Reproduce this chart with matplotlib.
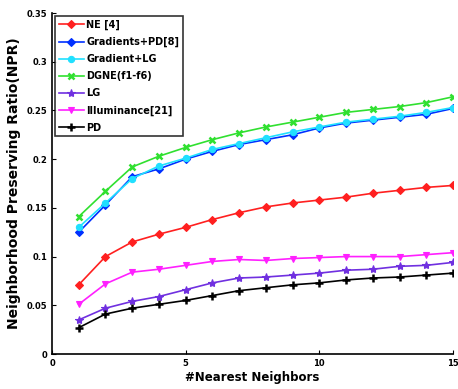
import numpy as np
import matplotlib.pyplot as plt

k = list(range(1, 16))
ne = [0.071, 0.100, 0.115, 0.123, 0.130, 0.138, 0.145, 0.151, 0.155, 0.158, 0.161, 0.165, 0.168, 0.171, 0.173]
grad_pd = [0.125, 0.153, 0.182, 0.190, 0.200, 0.208, 0.215, 0.220, 0.225, 0.232, 0.237, 0.240, 0.243, 0.246, 0.252]
grad_lg = [0.130, 0.155, 0.180, 0.193, 0.201, 0.210, 0.216, 0.222, 0.228, 0.233, 0.238, 0.241, 0.244, 0.248, 0.253]
dgne = [0.141, 0.167, 0.192, 0.203, 0.212, 0.220, 0.227, 0.233, 0.238, 0.243, 0.248, 0.251, 0.254, 0.258, 0.264]
lg = [0.035, 0.047, 0.054, 0.059, 0.066, 0.073, 0.078, 0.079, 0.081, 0.083, 0.086, 0.087, 0.090, 0.091, 0.094]
illum = [0.051, 0.072, 0.084, 0.087, 0.091, 0.095, 0.097, 0.096, 0.098, 0.099, 0.100, 0.100, 0.100, 0.102, 0.104]
pd_ = [0.027, 0.041, 0.047, 0.051, 0.055, 0.060, 0.065, 0.068, 0.071, 0.073, 0.076, 0.078, 0.079, 0.081, 0.083]

series = [
    ('NE [4]', ne, '#ff2020', 'D'),
    ('Gradients+PD[8]', grad_pd, '#0030ff', 'D'),
    ('Gradient+LG', grad_lg, '#20e0ff', 'o'),
    ('DGNE(f1-f6)', dgne, '#30e030', 'x'),
    ('LG', lg, '#7030e0', '*'),
    ('Illuminance[21]', illum, '#ff20ff', 'v'),
    ('PD', pd_, 'black', '+'),
]

plt.rcParams['font.weight'] = 'bold'
fig = plt.figure(figsize=(4.58, 3.89), dpi=100)
ax = fig.add_axes([52/458, 1 - 354/389, 401/458, 341/389])

for name, vals, c, m in series:
    mew = 1.8 if m in ('x', '+') else 0.8
    ms = 6 if m in ('*', '+') else 4.5
    ax.plot(k, vals, color=c, lw=1.2, marker=m, ms=ms, mew=mew, label=name)

ax.set_xlim(0, 15)
ax.set_ylim(0, 0.35)
ax.set_xticks([0, 5, 10, 15])
ax.set_yticks(np.arange(0, 0.351, 0.05))
ax.set_yticklabels(['0', '0.05', '0.1', '0.15', '0.2', '0.25', '0.3', '0.35'])
ax.tick_params(direction='in', labelsize=6, length=3)
for lab in ax.get_xticklabels() + ax.get_yticklabels():
    lab.set_fontweight('bold')
ax.spines['top'].set_visible(False)
ax.spines['right'].set_visible(False)
ax.spines['left'].set_linewidth(1.2)
ax.spines['bottom'].set_linewidth(1.2)
ax.set_xlabel('#Nearest Neighbors', fontsize=8.5, fontweight='bold', labelpad=2)
ax.set_ylabel('Neighborhood Preserving Ratio(NPR)', fontsize=10, fontweight='bold', labelpad=4)

leg = ax.legend(loc='upper left', fontsize=7, frameon=True, fancybox=False,
                edgecolor='black', handlelength=2.6, borderaxespad=0.3,
                labelspacing=0.72, borderpad=0.4, handletextpad=0.2)
leg.get_frame().set_linewidth(1.2)

fig.savefig('out.png', dpi=100)
